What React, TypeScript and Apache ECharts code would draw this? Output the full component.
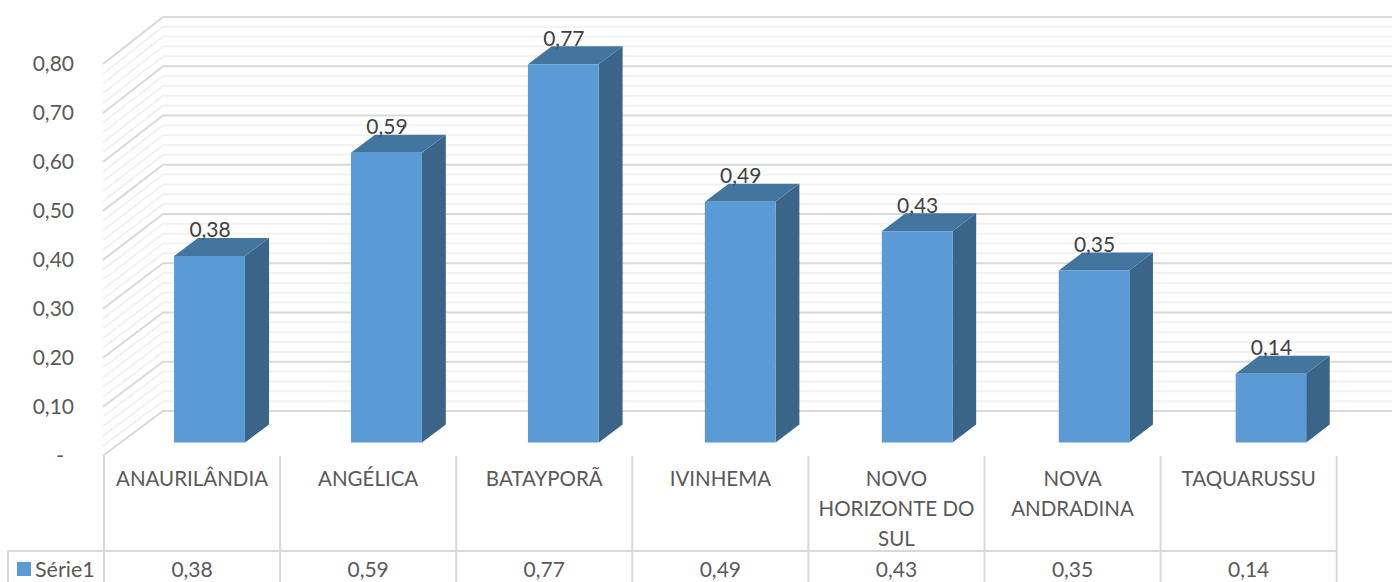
import React, { useEffect, useRef } from "react";
import * as echarts from "echarts";

const categories = ["ANAURILÂNDIA", "ANGÉLICA", "BATAYPORÃ", "IVINHEMA", "NOVO\nHORIZONTE DO\nSUL", "NOVA\nANDRADINA", "TAQUARUSSU"];
const values = [0.38, 0.59, 0.77, 0.49, 0.43, 0.35, 0.14];
const seriesName = "Série1";
const majorTicks = [0, 0.1, 0.2, 0.3, 0.4, 0.5, 0.6, 0.7, 0.8];
const minorTicks = [
  0.02, 0.04, 0.06, 0.08, 0.12, 0.14, 0.16, 0.18, 0.22, 0.24, 0.26, 0.28, 0.32, 0.34, 0.36, 0.38,
  0.42, 0.44, 0.46, 0.48, 0.52, 0.54, 0.56, 0.58, 0.62, 0.64, 0.66, 0.68, 0.72, 0.74, 0.76, 0.78,
];

const FONT = "Lato";
const comma = (v: number) => v.toFixed(2).replace(".", ",");

const GRID_LEFT = 104;
const CELL = 176.1;
const GRID_RIGHT = GRID_LEFT + CELL * 7;
const RULE = "#d9d9d9";

function wallSeries(ticks: number[], color: string, z: number) {
  return {
    type: "custom",
    z,
    silent: true,
    clip: false,
    data: ticks.map((v) => [0, v]),
    encode: { x: 0, y: 1 },
    renderItem: (_p: any, api: any) => {
      const v = api.value(1);
      const c = api.coord([0, v]);
      const band = api.size([1, 0])[0];
      const x0 = c[0] - band / 2 - 1;
      const y0 = c[1];
      return {
        type: "polyline",
        shape: { points: [[x0, y0], [x0 + 60, y0 - 44.7 - v * 3], [1392, y0 - 44.7 - v * 3]] },
        style: { stroke: color, lineWidth: 2, fill: "none" },
      };
    },
  };
}

export default function App() {
  const ref = useRef<HTMLDivElement>(null);
  useEffect(() => {
    document.body.style.margin = "0";
    const chart = echarts.init(ref.current!, undefined, { renderer: "svg" });
    const ruleStyle = { stroke: RULE, lineWidth: 2 };
    const rules: any[] = [];
    for (let i = 0; i <= 7; i++) {
      const x = GRID_LEFT + CELL * i;
      rules.push({ type: "line", silent: true, shape: { x1: x, y1: 456, x2: x, y2: 582 }, style: ruleStyle });
    }
    rules.push({ type: "line", silent: true, shape: { x1: 8, y1: 551, x2: GRID_RIGHT, y2: 551 }, style: ruleStyle });
    rules.push({ type: "line", silent: true, shape: { x1: 8, y1: 551, x2: 8, y2: 582 }, style: ruleStyle });

    chart.setOption({
      animation: false,
      backgroundColor: "#ffffff",
      textStyle: { fontFamily: FONT },
      grid: { left: GRID_LEFT, width: CELL * 7, top: 64, height: 391.7, outerBoundsMode: "none", containLabel: false },
      legend: {
        data: [seriesName],
        left: 17,
        top: 558,
        itemWidth: 14,
        itemHeight: 14,
        itemGap: 4,
        icon: "rect",
        padding: 0,
        textStyle: { fontFamily: FONT, fontSize: 21.5, color: "#595959", padding: [0, 0, 0, -1] },
      },
      graphic: rules,
      xAxis: [
        {
          type: "category",
          data: categories,
          position: "bottom",
          axisLine: { show: false },
          axisTick: { show: false },
          axisLabel: {
            interval: 0,
            margin: 7,
            fontFamily: FONT,
            fontSize: 20.5,
            color: "#595959",
            lineHeight: 30,
            verticalAlign: "top",
          },
        },
        {
          type: "category",
          data: values.map(comma),
          position: "bottom",
          offset: 98,
          axisLine: { show: false },
          axisTick: { show: false },
          axisLabel: {
            interval: 0,
            margin: 0,
            fontFamily: FONT,
            fontSize: 21,
            color: "#595959",
            lineHeight: 30,
            verticalAlign: "top",
          },
        },
      ],
      yAxis: {
        type: "value",
        min: 0,
        max: 0.8,
        interval: 0.1,
        axisLine: { show: false },
        axisTick: { show: false },
        splitLine: { show: false },
        axisLabel: {
          margin: 30,
          fontFamily: FONT,
          fontSize: 21,
          color: "#595959",
          padding: [0, 0, 3, 0],
          formatter: (v: number) => (v === 0 ? "{z|-}" : comma(v)),
          rich: { z: { fontFamily: FONT, fontSize: 21, color: "#595959", padding: [0, 10, 0, 0] } },
        },
      },
      series: [
        wallSeries(minorTicks, "#f2f2f2", 1),
        wallSeries(majorTicks, "#d9d9d9", 2),
        {
          type: "custom",
          name: seriesName,
          z: 3,
          clip: false,
          itemStyle: { color: "#5B9BD5" },
          data: values.map((v, i) => [i, v]),
          encode: { x: 0, y: 1 },
          renderItem: (_p: any, api: any) => {
            const i = api.value(0);
            const v = api.value(1);
            const top = api.coord([i, v]);
            const base = api.coord([i, 0]);
            const cx = top[0] + 17.5 + 0.8 * i;
            const w = 71 - 0.08 * i;
            const yBase = base[1] - 13.2;
            const yTop = yBase - (base[1] - top[1]) * 1.003;
            const xl = cx - w / 2;
            const xr = cx + w / 2;
            const dx = 24 - 0.08 * i;
            const dy = 18;
            return {
              type: "group",
              children: [
                { type: "polygon", shape: { points: [[xr, yTop], [xr + dx, yTop - dy], [xr + dx, yBase - dy], [xr, yBase]] }, style: { fill: "#3A6488" } },
                { type: "polygon", shape: { points: [[xl, yTop], [xl + dx, yTop - dy], [xr + dx, yTop - dy], [xr, yTop]] }, style: { fill: "#44759F" } },
                { type: "rect", shape: { x: xl, y: yTop, width: w, height: yBase - yTop }, style: { fill: "#5B9BD5" } },
                {
                  type: "text",
                  style: {
                    text: comma(v),
                    x: cx + 0.5,
                    y: yTop - 27,
                    align: "center",
                    verticalAlign: "middle",
                    fontFamily: FONT,
                    fontSize: 21,
                    fill: "#404040",
                  },
                },
              ],
            };
          },
        },
      ],
    });
    return () => chart.dispose();
  }, []);
  return <div ref={ref} style={{ width: 1392, height: 582 }} />;
}
